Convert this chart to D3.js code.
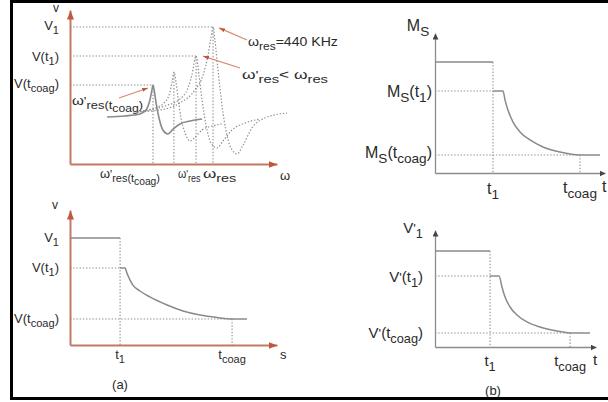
<!DOCTYPE html>
<html>
<head>
<meta charset="utf-8">
<script src="https://cdn.jsdelivr.net/npm/d3@7"></script>
<style>
  html, body { margin: 0; padding: 0; background: #fff; }
  svg { display: block; }
  text { font-family: "Liberation Sans", Arial, Helvetica, sans-serif; fill: #2a2a2a; }
</style>
</head>
<body>
<svg id="fig" width="608" height="402"></svg>
<script>
// ---------- (a) top: resonance spectra, arbitrary units (freq 0-100, amplitude 0-100) ----------
const resLevels = [89.0, 70.1, 51.3];              // V1, V(t1), V(tcoag)
const resPeakFreqs = [40.1, 50.2, 60.9, 69.1];     // ω'res(tcoag) ... ωres
const resPeakAmps = [51.3, 59.7, 70.1, 89.0];
const solidSpectrum = [
  [17.9, 30.5], [26.6, 31.2], [33.8, 32.5], [36.7, 35.1], [38.6, 41.6], [39.6, 48.1],
  [40.1, 51.3], [40.8, 46.8], [41.5, 40.3], [43.0, 29.9], [44.9, 22.1], [47.3, 19.5],
  [49.8, 22.7], [53.1, 26.0], [58.0, 27.9], [63.8, 29.2]
];
const dottedSpectra = [
  [[33.8, 34.4], [41.1, 36.4], [45.9, 40.3], [48.3, 46.8], [49.3, 53.2], [50.2, 59.7],
   [51.2, 53.2], [52.2, 42.9], [53.6, 29.9], [55.6, 20.1], [58.0, 14.9], [60.4, 17.5],
   [63.8, 22.1], [68.6, 24.7], [73.4, 26.0]],
  [[33.8, 33.8], [45.9, 37.7], [53.1, 42.2], [57.0, 49.4], [58.9, 57.8], [60.9, 70.1],
   [62.3, 57.8], [63.8, 41.6], [65.7, 25.3], [68.1, 13.6], [71.0, 10.4], [73.9, 14.9],
   [78.3, 22.1], [84.5, 26.6], [91.8, 29.2]],
  [[31.4, 33.8], [43.5, 35.1], [53.1, 39.6], [60.4, 48.1], [64.3, 57.8], [66.7, 70.8],
   [68.1, 81.8], [69.1, 89.0], [70.0, 80.5], [71.5, 61.0], [73.4, 38.3], [75.8, 18.8],
   [78.3, 9.1], [80.7, 6.5], [83.6, 12.3], [87.9, 23.4], [94.2, 29.9], [104.8, 33.1]]
];

// ---------- (a) bottom: voltage vs time ----------
const vLevels = [79.3, 57.0, 19.3];   // V1, V(t1), V(tcoag)
const vTimes = [24.2, 78.3];          // t1, tcoag
const vDecay = [
  [26.6, 57.0], [27.5, 53.3], [29.0, 48.1], [30.4, 44.4], [33.8, 40.0], [38.6, 35.6],
  [46.9, 29.6], [54.6, 25.2], [62.8, 22.2], [71.0, 20.4], [78.7, 19.3], [85.5, 19.3]
];

// ---------- (b) top: Ms vs time ----------
const msLevels = [79.3, 58.6, 12.9];
const msTimes = [34.1, 85.3];
const msDecay = [
  [40.0, 58.6], [41.2, 52.1], [42.9, 45.0], [45.9, 36.4], [50.0, 29.3], [55.9, 23.6],
  [63.5, 18.6], [73.5, 15.0], [85.3, 12.9], [97.1, 12.9]
];

// ---------- (b) bottom: V'1 vs time ----------
const vpLevels = [82.1, 60.7, 12.0];
const vpTimes = [34.2, 83.9];
const vpDecay = [
  [39.8, 60.7], [41.6, 51.3], [43.5, 42.7], [46.6, 34.2], [50.9, 27.4], [57.1, 21.4],
  [65.2, 17.1], [75.8, 13.7], [83.9, 12.0], [96.3, 12.0]
];

// ---------- labels: [text, level] segments (0 normal, 1 subscript, 2 sub-subscript, 3 prime) ----------
const P = "'";
const resYLabels = [
  [["V", 0], ["1", 1]],
  [["V(t", 0], ["1", 1], [")", 0]],
  [["V(t", 0], ["coag", 1], [")", 0]]
];
const resXLabels = [
  [["\u03C9", 0], [P, 3], ["res(t", 1], ["coag", 2], [")", 1]],
  [["\u03C9", 0], [P, 3], ["res", 1]],
  [["\u03C9", 0], ["res", 1]]
];
const noteLabels = [
  [["\u03C9", 0], ["res", 1], ["=440 KHz", 0]],
  [["\u03C9", 0], [P, 3], ["res", 1], ["< \u03C9", 0], ["res", 1]],
  [["\u03C9", 0], [P, 3], ["res(t", 1], ["coag", 2], [")", 1]]
];
const vYLabels = resYLabels;
const msYLabels = [
  [["M", 0], ["S", 1]],
  [["M", 0], ["S", 1], ["(t", 0], ["1", 1], [")", 0]],
  [["M", 0], ["S", 1], ["(t", 0], ["coag", 1], [")", 0]]
];
const vpYLabels = [
  [["V", 0], [P, 3], ["1", 1]],
  [["V", 0], [P, 3], ["(t", 0], ["1", 1], [")", 0]],
  [["V", 0], [P, 3], ["(t", 0], ["coag", 1], [")", 0]]
];
const timeLabels = [
  [["t", 0], ["1", 1]],
  [["t", 0], ["coag", 1]]
];

// ---------- styling ----------
const AXIS_A = "#c27a62", ARROW_A = "#c0573d";
const AXIS_B = "#8c8c8c", ARROW_B = "#444";
const CURVE = "#8a8a8a", DOT = "#8e8e8e", NOTE = "#d98a70";

const svg = d3.select("#fig");
const defs = svg.append("defs");
function marker(id, color, len, wid) {
  defs.append("marker")
    .attr("id", id).attr("viewBox", `0 0 ${len} ${wid}`)
    .attr("refX", len).attr("refY", wid / 2)
    .attr("markerWidth", len).attr("markerHeight", wid)
    .attr("markerUnits", "userSpaceOnUse").attr("orient", "auto")
    .append("path").attr("d", `M0,0L${len},${wid / 2}L0,${wid}Z`).attr("fill", color);
}
marker("arrA", ARROW_A, 9, 7);
marker("arrB", ARROW_B, 6, 6);
marker("arrN", ARROW_A, 6, 4);

const LV = {
  "0": { s: 1, o: 0 }, "1": { s: 0.85, o: 0.3 }, "2": { s: 0.8, o: 0.52 }, "3": { s: 0.9, o: 0 }
};
// multi-level label; optional width stretches the text horizontally around its anchor
function rich(g, x, y, segs, size, anchor, width) {
  const t = g.append("text").attr("x", 0).attr("y", 0)
    .attr("font-size", size).attr("text-anchor", anchor || "start")
    .attr("transform", `translate(${x},${y})`);
  let cur = 0;
  segs.forEach(([str, lvl]) => {
    const L = LV[String(lvl)];
    const off = L.o * size;
    t.append("tspan").attr("dy", (off - cur).toFixed(2)).attr("font-size", (size * L.s).toFixed(2)).text(str);
    cur = off;
  });
  if (width) {
    const w = t.node().getBBox().width;
    if (w > 0) t.attr("transform", `translate(${x},${y}) scale(${(width / w).toFixed(3)},1)`);
  }
  return t;
}

function axes(g, x, y, color, arrowId, w) {
  const ax = g.append("g").attr("transform", `translate(0,${y(0)})`)
    .call(d3.axisBottom(x).tickValues([]).tickSizeOuter(0));
  ax.select(".domain").attr("stroke", color).attr("stroke-width", w).attr("marker-end", `url(#${arrowId})`);
  const ay = g.append("g").attr("transform", `translate(${x(0)},0)`)
    .call(d3.axisLeft(y).tickValues([]).tickSizeOuter(0));
  ay.select(".domain").attr("stroke", color).attr("stroke-width", w).attr("marker-end", `url(#${arrowId})`);
}

function dotted(g, pts, x, y) {
  g.append("path")
    .attr("d", d3.line().x(d => x(d[0])).y(d => y(d[1]))(pts))
    .attr("fill", "none").attr("stroke", DOT).attr("stroke-width", 1.1)
    .attr("stroke-dasharray", "1.4,1.8");
}

// step-then-decay panel used three times
function decayPanel(cfg) {
  const g = svg.append("g");
  const x = d3.scaleLinear().domain([0, 100]).range(cfg.xr);
  const y = d3.scaleLinear().domain([0, 100]).range(cfg.yr);
  const [L0, L1, L2] = cfg.levels;
  const [t1, tc] = cfg.times;
  dotted(g, [[t1, L0], [t1, 0]], x, y);
  dotted(g, [[0, L1], [t1, L1]], x, y);
  dotted(g, [[0, L2], [tc, L2]], x, y);
  dotted(g, [[tc, L2], [tc, 0]], x, y);
  axes(g, x, y, cfg.axisColor, cfg.arrow, cfg.axisW);
  const line = d3.line().x(d => x(d[0])).y(d => y(d[1]));
  g.append("path").attr("d", line([[0, L0], [t1, L0]]))
    .attr("fill", "none").attr("stroke", CURVE).attr("stroke-width", 1.5);
  g.append("path").attr("d", line.curve(d3.curveMonotoneX)([[t1, L1]].concat(cfg.decay)))
    .attr("fill", "none").attr("stroke", CURVE).attr("stroke-width", 1.5);
  return { g, x, y };
}

// ---------- (a) top ----------
{
  const g = svg.append("g");
  const x = d3.scaleLinear().domain([0, 100]).range([70, 277]);
  const y = d3.scaleLinear().domain([0, 100]).range([164, 10]);
  const levelPeak = [3, 2, 0];
  resLevels.forEach((v, i) => dotted(g, [[0, v], [resPeakFreqs[levelPeak[i]], v]], x, y));
  resPeakFreqs.forEach((f, i) => dotted(g, [[f, resPeakAmps[i]], [f, 0]], x, y));
  dottedSpectra.forEach(s => {
    g.append("path")
      .attr("d", d3.line().x(d => x(d[0])).y(d => y(d[1])).curve(d3.curveMonotoneX)(s))
      .attr("fill", "none").attr("stroke", DOT).attr("stroke-width", 1.2)
      .attr("stroke-dasharray", "1.4,1.8");
  });
  g.append("path")
    .attr("d", d3.line().x(d => x(d[0])).y(d => y(d[1])).curve(d3.curveMonotoneX)(solidSpectrum))
    .attr("fill", "none").attr("stroke", CURVE).attr("stroke-width", 1.6);
  axes(g, x, y, AXIS_A, "arrA", 2);

  rich(g, 56, 12, [["v", 0]], 12, "middle");
  const yBase = [30, 61, 88];
  resLevels.forEach((v, i) => rich(g, 59, yBase[i], resYLabels[i], 13, "end"));
  rich(g, 100, 178, resXLabels[0], 13, "start", 60);
  rich(g, 178, 178, resXLabels[1], 13, "start", 23);
  rich(g, 203, 178, resXLabels[2], 13, "start", 34);
  rich(g, 280, 180, [["\u03C9", 0]], 13, "start");

  // pointers to the peaks
  const notes = [
    { peak: 3, from: [247, 40], dx: 6, dy: 1, label: [248, 46], size: 12, width: 90 },
    { peak: 2, from: [240, 68], dx: 7, dy: 0, label: [242, 79], size: 12, width: 86 },
    { peak: 0, from: [119, 98], dx: -5, dy: 3, label: [72, 105], size: 13, width: 71 }
  ];
  notes.forEach((n, i) => {
    const tip = [x(resPeakFreqs[n.peak]) + n.dx, y(resPeakAmps[n.peak]) + n.dy];
    g.append("line").attr("x1", n.from[0]).attr("y1", n.from[1]).attr("x2", tip[0]).attr("y2", tip[1])
      .attr("stroke", NOTE).attr("stroke-width", 1.3).attr("marker-end", "url(#arrN)");
    rich(g, n.label[0], n.label[1], noteLabels[i], n.size, "start", n.width);
  });
}

// ---------- (a) bottom ----------
{
  const p = decayPanel({ xr: [70, 277], yr: [345, 210], levels: vLevels, times: vTimes, decay: vDecay,
    axisColor: AXIS_A, arrow: "arrA", axisW: 2 });
  rich(p.g, 55, 209, [["v", 0]], 12, "middle");
  const yBase = [242, 272, 323];
  vLevels.forEach((v, i) => rich(p.g, 59, yBase[i], vYLabels[i], 13, "end"));
  rich(p.g, p.x(vTimes[0]), 359, timeLabels[0], 13, "middle");
  rich(p.g, p.x(vTimes[1]), 359, timeLabels[1], 13, "middle");
  rich(p.g, 280, 359, [["s", 0]], 13, "start");
  rich(p.g, 120, 389, [["(a)", 0]], 13, "middle");
}

// ---------- (b) top ----------
{
  const p = decayPanel({ xr: [435, 605], yr: [173, 33], levels: msLevels, times: msTimes, decay: msDecay,
    axisColor: AXIS_B, arrow: "arrB", axisW: 1.3 });
  rich(p.g, 418, 31, msYLabels[0], 16, "middle");
  rich(p.g, 432, 97, msYLabels[1], 16, "end");
  rich(p.g, 432, 158, msYLabels[2], 16, "end");
  rich(p.g, p.x(msTimes[0]), 194, timeLabels[0], 16, "middle");
  rich(p.g, p.x(msTimes[1]), 193, timeLabels[1], 16, "middle");
  rich(p.g, 602, 192, [["t", 0]], 16, "start");
}

// ---------- (b) bottom ----------
{
  const p = decayPanel({ xr: [435, 596], yr: [347, 230], levels: vpLevels, times: vpTimes, decay: vpDecay,
    axisColor: AXIS_B, arrow: "arrB", axisW: 1.3 });
  rich(p.g, 413, 233, vpYLabels[0], 15, "middle");
  rich(p.g, 423, 282, vpYLabels[1], 15, "end");
  rich(p.g, 423, 338, vpYLabels[2], 15, "end");
  rich(p.g, p.x(vpTimes[0]), 366, timeLabels[0], 15, "middle");
  rich(p.g, p.x(vpTimes[1]), 366, timeLabels[1], 15, "middle");
  rich(p.g, 593, 365, [["t", 0]], 15, "start");
  rich(p.g, 493, 395, [["(b)", 0]], 13, "middle");
}

// frame
svg.append("rect").attr("x", 11.5).attr("y", 1.5).attr("width", 610).attr("height", 397)
  .attr("fill", "none").attr("stroke", "#000").attr("stroke-width", 3);
</script>
</body>
</html>
